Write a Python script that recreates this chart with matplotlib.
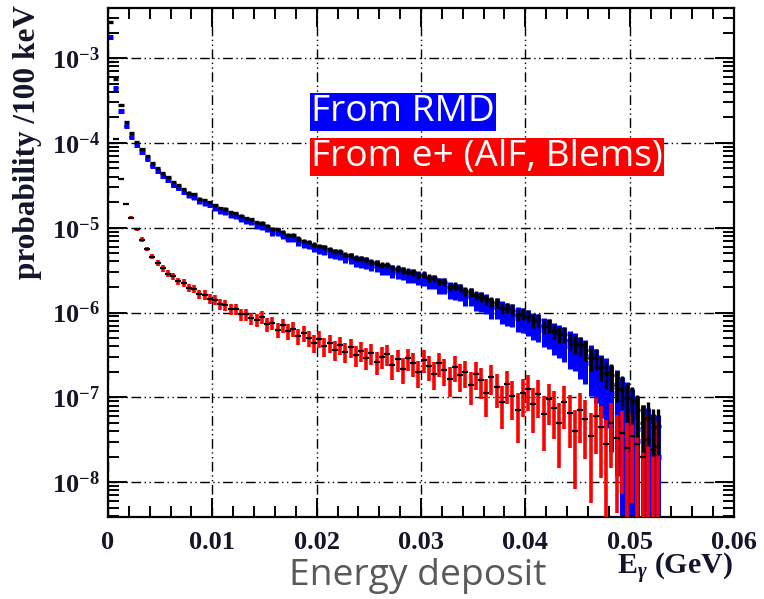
import numpy as np
import matplotlib
matplotlib.use('Agg')
import matplotlib.pyplot as plt
from matplotlib.ticker import MultipleLocator, LogLocator, FuncFormatter, NullFormatter

plt.rcParams['mathtext.fontset'] = 'custom'
plt.rcParams['mathtext.rm'] = 'Liberation Serif:bold'
plt.rcParams['mathtext.it'] = 'Liberation Serif:italic:bold'
plt.rcParams['mathtext.bf'] = 'Liberation Serif:bold'

# histogram binning (GeV)
bin_width = 0.0005
n_bins = 106

# log10(probability / 100 keV), one value per bin
rmd_log = [
    -2.75, -3.35, -3.62, -3.80, -3.93, -4.03, -4.11, -4.19, -4.27, -4.33,
    -4.39, -4.44, -4.50, -4.53, -4.58, -4.62, -4.64, -4.69, -4.71, -4.73,
    -4.77, -4.80, -4.81, -4.85, -4.86, -4.89, -4.92, -4.93, -4.97, -4.98,
    -5.01, -5.05, -5.05, -5.09, -5.12, -5.12, -5.16, -5.19, -5.20, -5.23,
    -5.25, -5.26, -5.29, -5.31, -5.32, -5.35, -5.36, -5.39, -5.40, -5.41,
    -5.44, -5.45, -5.48, -5.48, -5.51, -5.52, -5.53, -5.56, -5.56, -5.59,
    -5.60, -5.63, -5.63, -5.68, -5.68, -5.73, -5.74, -5.75, -5.80, -5.80,
    -5.85, -5.86, -5.88, -5.93, -5.93, -5.98, -6.00, -6.01, -6.06, -6.07,
    -6.10, -6.14, -6.15, -6.20, -6.22, -6.27, -6.30, -6.33, -6.39, -6.41,
    -6.47, -6.51, -6.59, -6.64, -6.73, -6.78, -6.88, -6.95, -7.06, -7.14,
    -7.26, -7.37, -7.52, -7.58, -7.68, -7.70,
]

eplus_log = [
    -3.05, -3.95, -4.42, -4.72, -4.88, -5.02, -5.14, -5.25, -5.34, -5.42,
    -5.48, -5.54, -5.57, -5.63, -5.65, -5.71, -5.72, -5.78, -5.79, -5.84,
    -5.85, -5.90, -5.91, -5.96, -5.96, -6.02, -6.02, -6.07, -6.09, -6.05,
    -6.14, -6.12, -6.20, -6.15, -6.22, -6.19, -6.28, -6.24, -6.30, -6.36,
    -6.31, -6.40, -6.36, -6.44, -6.38, -6.46, -6.41, -6.50, -6.45, -6.53,
    -6.48, -6.58, -6.52, -6.49, -6.62, -6.55, -6.66, -6.54, -6.60, -6.70,
    -6.56, -6.63, -6.72, -6.60, -6.68, -6.78, -6.64, -6.74, -6.70, -6.85,
    -6.72, -6.80, -6.95, -6.76, -6.88, -7.05, -6.84, -6.98, -7.15, -6.95,
    -6.90, -7.08, -6.96, -7.20, -7.02, -7.12, -7.30, -7.05, -7.18, -7.40,
    -7.15, -7.25, -7.45, -7.22, -7.35, -7.55, -7.30, -7.48, -7.42, -7.60,
    -7.45, -7.55, -7.70, -7.50, -7.62, -7.58,
]

# probability carried by a single MC entry, sets the statistical error bars
rmd_weight = 9.0e-8
eplus_weight = 2.5e-8

x = np.arange(n_bins) * bin_width + bin_width / 2
rmd = 10 ** np.array(rmd_log)
eplus = 10 ** np.array(eplus_log)
total = rmd + eplus

rmd_err = np.sqrt(rmd * rmd_weight)
eplus_err = np.sqrt(eplus * eplus_weight)
total_err = np.sqrt(rmd_err ** 2 + eplus_err ** 2)

floor = 1e-10
def low(v, e):
    return np.minimum(e, v - floor)

fig = plt.figure(figsize=(7.64, 5.99), dpi=100)
ax = fig.add_axes([108 / 764, 1 - 517 / 599, 626 / 764, 509 / 599])

ax.errorbar(x, rmd, yerr=[low(rmd, rmd_err), rmd_err], xerr=bin_width / 2,
            fmt='none', ecolor='#0000ff', elinewidth=3.6, capsize=0, zorder=2)
ax.errorbar(x, eplus, yerr=[low(eplus, eplus_err), eplus_err],
            fmt='none', ecolor='#ff0000', elinewidth=2.6, capsize=0, zorder=3)
ax.plot(x, eplus, ls='none', marker='_', ms=5, mew=1.6, color='k', zorder=4)
ax.errorbar(x, total, yerr=[low(total, total_err) * 0.55, total_err * 0.55],
            xerr=bin_width / 2, fmt='none', ecolor='k', elinewidth=2.4,
            capsize=0, zorder=5)

ax.set_yscale('log')
ax.set_xlim(0, 0.06)
ax.set_ylim(10 ** -8.41, 10 ** -2.41)

ax.xaxis.set_major_locator(MultipleLocator(0.01))
ax.xaxis.set_minor_locator(MultipleLocator(0.002))
ax.xaxis.set_major_formatter(FuncFormatter(lambda v, p: '%g' % round(v, 3)))
ax.yaxis.set_major_locator(LogLocator(base=10, numticks=20))
ax.yaxis.set_minor_locator(LogLocator(base=10, subs=np.arange(2, 10), numticks=20))
ax.yaxis.set_minor_formatter(NullFormatter())
ax.yaxis.set_major_formatter(FuncFormatter(lambda v, p: r'$10^{%d}$' % round(np.log10(v))))

ax.tick_params(which='both', direction='in', top=True, right=True, width=1.4, color='k')
ax.tick_params(which='major', length=14)
ax.tick_params(which='minor', length=8)
ax.tick_params(axis='x', which='major', pad=10)
ax.tick_params(axis='y', which='major', pad=6)
for lab in ax.get_xticklabels() + ax.get_yticklabels():
    lab.set_fontfamily('Liberation Serif')
    lab.set_fontweight('bold')
    lab.set_fontsize(19)
    lab.set_color('#15152a')
for s in ax.spines.values():
    s.set_linewidth(1.6)

ax.grid(True, which='major', color='k', lw=1.0, ls=(0, (7, 2.5, 1, 2.5, 1, 2.5)))

fig.text(28 / 764, 1 - 142 / 599, 'probability /100 keV', rotation=90,
         ha='center', va='center', fontfamily='Liberation Serif',
         fontweight='bold', fontsize=22.5, color='#15152a')
fig.text(733 / 764, 1 - 569 / 599, r'$\mathbf{E}_{\gamma}$ (GeV)', ha='right',
         va='center', fontfamily='Liberation Serif', fontweight='bold',
         fontsize=21.5, color='#15152a')
fig.text(418 / 764, 1 - 576 / 599, 'Energy deposit', ha='center', va='center',
         fontfamily='Open Sans', fontsize=26.8, color='#595959')

fig.text(311 / 764, 1 - 112 / 599, 'From RMD', ha='left', va='center',
         fontfamily='Open Sans', fontsize=26.7, color='white', zorder=10,
         bbox=dict(boxstyle='square,pad=0.03', fc='#0000ff', ec='none'))
fig.text(311 / 764, 1 - 157 / 599, 'From e+ (AlF, Blems)', ha='left', va='center',
         fontfamily='Open Sans', fontsize=26.7, color='white', zorder=10,
         bbox=dict(boxstyle='square,pad=0.03', fc='#ff0000', ec='none'))

fig.savefig('out.png', dpi=100)
